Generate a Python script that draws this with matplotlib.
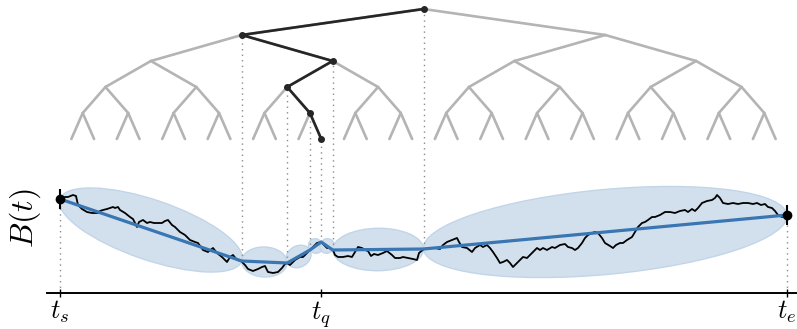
''' Binary time tree above a Brownian path with bridge ellipses between split points. '''

import numpy as np
import matplotlib.pyplot as plt
from matplotlib.patches import Ellipse

plt.rcParams['mathtext.fontset'] = 'cm'

# Time in sample steps: t_s = 0, t_e = T
T = 727

path_t = [0, 5, 8, 13, 16, 18, 22, 27, 32, 35,
          38, 40, 43, 47, 50, 53, 55, 58, 60, 65,
          70, 73, 77, 79, 83, 87, 90, 94, 98, 102,
          105, 108, 112, 115, 120, 125, 130, 135, 138, 143,
          148, 153, 157, 162, 167, 170, 173, 177, 181, 185,
          188, 193, 198, 202, 205, 208, 213, 218, 222, 225,
          227, 230, 235, 240, 243, 247, 250, 253, 257, 261,
          263, 267, 270, 273, 275, 278, 283, 288, 292, 295,
          298, 302, 305, 308, 311, 314, 318, 323, 327, 332,
          335, 340, 343, 348, 353, 357, 359, 364, 370, 375,
          380, 383, 387, 392, 397, 399, 402, 407, 412, 415,
          420, 423, 427, 430, 433, 437, 440, 443, 447, 450,
          453, 457, 460, 463, 467, 470, 473, 477, 480, 483,
          487, 492, 495, 500, 505, 508, 512, 515, 518, 522,
          525, 528, 532, 535, 538, 542, 545, 550, 553, 556,
          560, 563, 567, 572, 575, 578, 582, 585, 588, 592,
          595, 600, 605, 610, 615, 620, 625, 628, 632, 635,
          638, 642, 647, 652, 655, 657, 660, 663, 668, 673,
          678, 683, 688, 693, 697, 701, 705, 708, 712, 715,
          718, 722, 725, 727]

path_B = [94, 96, 96, 98, 97, 88, 84, 81, 80, 80,
          80, 82, 83, 84, 85, 86, 85, 86, 83, 80,
          76, 74, 66, 71, 73, 70, 71, 70, 70, 70,
          72, 73, 68, 66, 61, 58, 53, 51, 50, 43,
          41, 45, 40, 36, 31, 36, 38, 33, 32, 28,
          24, 22, 24, 26, 27, 21, 20, 21, 25, 29,
          30, 28, 33, 36, 36, 40, 43, 46, 50, 51,
          49, 45, 45, 43, 38, 36, 36, 37, 36, 41,
          46, 45, 43, 42, 37, 39, 38, 40, 42, 38,
          35, 35, 36, 35, 34, 33, 40, 44, 45, 45,
          44, 48, 51, 53, 55, 51, 46, 45, 41, 45,
          48, 46, 48, 45, 41, 35, 30, 31, 33, 30,
          26, 30, 33, 36, 35, 38, 41, 45, 43, 45,
          43, 46, 45, 48, 49, 46, 45, 43, 45, 50,
          55, 58, 60, 61, 60, 55, 50, 47, 45, 48,
          50, 50, 53, 56, 61, 66, 70, 71, 73, 76,
          76, 78, 81, 81, 80, 82, 83, 81, 84, 82,
          85, 90, 92, 93, 95, 98, 95, 90, 89, 90,
          89, 90, 90, 89, 90, 88, 89, 86, 85, 82,
          78, 76, 78, 78]

# split points refined towards t_q (fractions of [t_s, t_e]) and B there
split_frac = [0.0, 0.25, 0.3125, 0.34375, 0.359375, 0.375, 0.5, 1.0]
split_B = [94, 32, 30, 43, 51, 43, 44, 78]

tq_frac = 23 / 64
n_depth = 5

tick_labels = ['$t_s$', '$t_q$', '$t_e$']

GRAY = '#b4b4b4'
DARK = '#262626'
BLUE = '#3a76b2'


def node_x(d, k):
    return T * (2 * k + 1) / 2 ** (d + 1)


def node_y(d):
    return 284 - 26 * d


def run():
    fig = plt.figure(figsize=(7.97, 3.29), dpi=100)
    ax = fig.add_axes([47 / 797, 36 / 329, 750 / 797, 293 / 329])
    ax.set_xlim(-13, 737)
    ax.set_ylim(0, 293)

    # full binary tree in gray
    for d in range(n_depth):
        for k in range(2 ** d):
            for c in (2 * k, 2 * k + 1):
                ax.plot([node_x(d, k), node_x(d + 1, c)], [node_y(d), node_y(d + 1)],
                        color=GRAY, lw=1.9, solid_capstyle='round', zorder=2)

    # path from root to the leaf holding t_q
    leaf_k = int(tq_frac * 2 ** n_depth)
    hk = [leaf_k >> (n_depth - d) for d in range(n_depth + 1)]
    hx = [node_x(d, hk[d]) for d in range(n_depth + 1)]
    hy = [node_y(d) for d in range(n_depth + 1)]
    ax.plot(hx, hy, color=DARK, lw=1.9, marker='o', ms=4, zorder=3)

    # dotted drop lines from the highlighted nodes to the path
    split_lookup = dict(zip(split_frac, split_B))
    for d in range(n_depth + 1):
        frac = (2 * hk[d] + 1) / 2 ** (d + 1)
        ax.plot([hx[d], hx[d]], [split_lookup[frac], hy[d]], color='#8c8c8c',
                lw=1.0, ls=(0, (1, 3)), zorder=1)
    for frac in (0.0, 1.0):
        ax.plot([frac * T, frac * T], [0, split_lookup[frac]], color='#8c8c8c',
                lw=1.0, ls=(0, (1, 3)), zorder=1)

    # bridge ellipses between consecutive split points
    st = np.array(split_frac) * T
    sb = np.array(split_B, dtype=float)
    for i in range(len(st) - 1):
        dx, db = st[i + 1] - st[i], sb[i + 1] - sb[i]
        length = np.hypot(dx, db)
        height = 120 * np.sqrt(dx / T)
        ell = Ellipse(((st[i] + st[i + 1]) / 2, (sb[i] + sb[i + 1]) / 2),
                      width=length, height=height, angle=np.degrees(np.arctan2(db, dx)),
                      facecolor='#d2e0ee', edgecolor='#c2d5e8', lw=1.0, zorder=0)
        ax.add_patch(ell)

    ax.plot(path_t, path_B, color='black', lw=1.3, zorder=4)
    ax.plot(st, sb, color=BLUE, lw=2.3, zorder=5)

    # endpoints
    ends_t = [0, T]
    ends_B = [split_B[0], split_B[-1]]
    ax.plot(ends_t, ends_B, 'o', color='black', ms=6, zorder=6)
    ax.plot(ends_t, ends_B, '|', color='black', ms=14, mew=1.5, zorder=6)

    for s in ('left', 'right', 'top'):
        ax.spines[s].set_visible(False)
    ax.spines['bottom'].set_linewidth(1.4)
    ax.set_yticks([])
    ax.set_xticks([0, tq_frac * T, T])
    ax.set_xticklabels(tick_labels, fontsize=19)
    ax.tick_params(axis='x', direction='inout', length=6, width=1, pad=1)

    fig.text(25 / 797, 1 - 218 / 329, '$B(t)$', rotation=90, fontsize=23,
             ha='center', va='center')

    fig.savefig('out.png', dpi=100)


if __name__ == "__main__":
    run()
